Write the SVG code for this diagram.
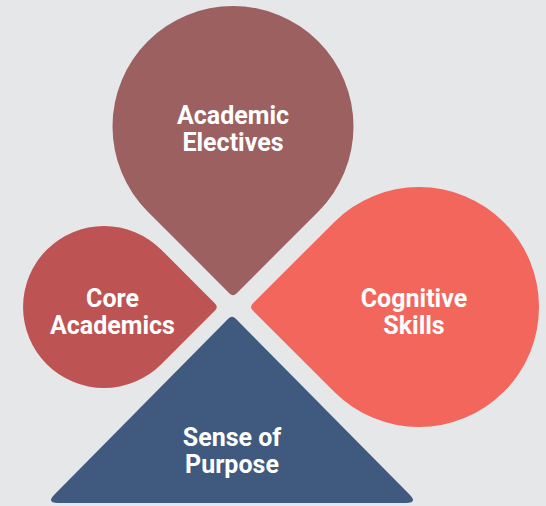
<svg xmlns="http://www.w3.org/2000/svg" width="546" height="506" viewBox="0 0 546 506">
  <style>
    .lbl { font-family: Roboto, "Liberation Sans", Arial, sans-serif; font-weight: 700; font-size: 25px; fill: #ffffff; text-anchor: middle; }
  </style>
  <rect x="0" y="0" width="546" height="506" fill="#E6E7E9"/>
  <g id="academic-electives">
    <path d="M 147.8 211.7 L 229.5 293.4 Q 233 296.9 236.5 293.4 L 318.2 211.7 A 120.5 120.5 0 1 0 147.8 211.7 Z" fill="#9B605F"/>
    <text class="lbl" x="233" y="123.5">Academic</text>
    <text class="lbl" x="233" y="150.5">Electives</text>
  </g>
  <g id="core-academics">
    <path d="M 161.3 249.7 L 215 303.5 Q 218.55 307 215 310.5 L 161.3 364.3 A 81 81 0 1 1 161.3 249.7 Z" fill="#BE5353"/>
    <text class="lbl" x="112.5" y="307">Core</text>
    <text class="lbl" x="112.5" y="334">Academics</text>
  </g>
  <g id="cognitive-skills">
    <path d="M 334.15 222.15 L 252.8 303.5 Q 249.3 307 252.8 310.5 L 334.15 391.85 A 120 120 0 1 0 334.15 222.15 Z" fill="#F2665C"/>
    <text class="lbl" x="414" y="307">Cognitive</text>
    <text class="lbl" x="414" y="334">Skills</text>
  </g>
  <g id="sense-of-purpose">
    <path d="M 228.46 318.54 Q 232 315 235.54 318.54 L 409.5 494.5 Q 418 503 406 503 L 58 503 Q 46 503 54.5 494.5 Z" fill="#3F5A7E"/>
    <text class="lbl" x="232" y="446">Sense of</text>
    <text class="lbl" x="232" y="473">Purpose</text>
  </g>
  <g id="connectors"></g>
</svg>
